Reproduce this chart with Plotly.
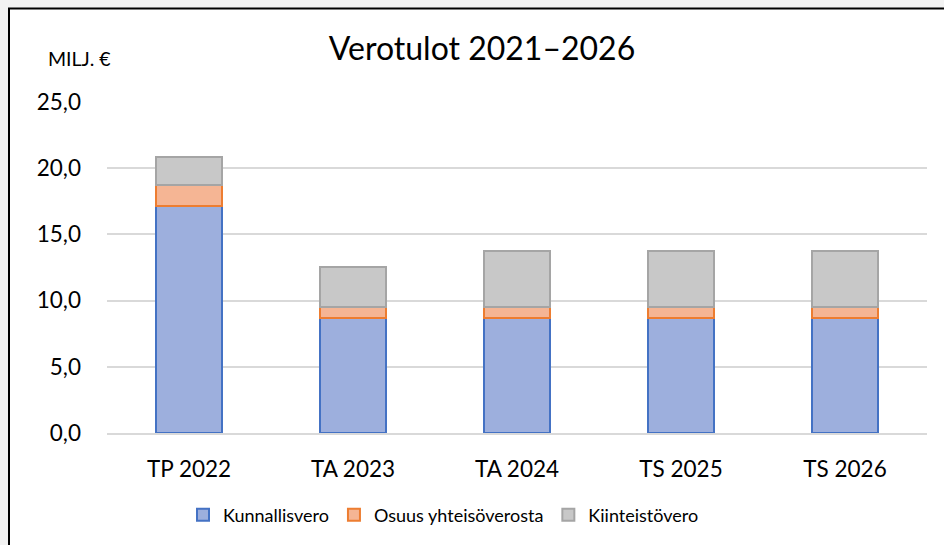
import plotly.graph_objects as go

categories = ["TP 2022", "TA 2023", "TA 2024", "TS 2025", "TS 2026"]
kunnallisvero = [17.14, 8.66, 8.66, 8.66, 8.66]
osuus_yhteisoverosta = [1.60, 0.88, 0.86, 0.86, 0.86]
kiinteistovero = [2.12, 3.02, 4.23, 4.23, 4.23]
y_ticks = [0, 5, 10, 15, 20, 25]

FONT = "Lato"

# plot area in pixels
L, R, T, B = 107, 927, 102, 433
W, H = 944, 545
pw, ph = R - L, B - T

def px_x(px):
    return (px - L) / pw

def px_y(py):
    return (B - py) / ph

fig = go.Figure()
series = [
    ("Kunnallisvero", kunnallisvero, "#9dafdd", "#4472c4"),
    ("Osuus yhteisöverosta", osuus_yhteisoverosta, "#f5b594", "#ed7d31"),
    ("Kiinteistövero", kiinteistovero, "#c8c8c8", "#a5a5a5"),
]
for name, vals, fill, line in series:
    fig.add_trace(go.Bar(
        x=categories, y=vals, name=name,
        marker=dict(color=fill, line=dict(color=line, width=2)),
        width=0.4,
    ))

fig.update_layout(
    barmode="stack",
    width=W, height=H,
    margin=dict(l=L, r=W - R, t=T, b=H - B),
    paper_bgcolor="#f2f2f2",
    plot_bgcolor="rgba(0,0,0,0)",
    font=dict(family=FONT, color="#000000"),
    separators=", ",
    title=dict(
        text="Verotulot 2021–2026",
        x=482 / W, xref="container", xanchor="center",
        y=1 - 49 / H, yref="container", yanchor="middle",
        font=dict(family=FONT, size=32, color="#000000"),
    ),
    showlegend=True,
    legend=dict(
        orientation="h",
        x=px_x(183), xanchor="left",
        y=px_y(515), yanchor="middle",
        font=dict(family=FONT, size=18, color="#000000"),
        bgcolor="rgba(0,0,0,0)",
        traceorder="normal",
        itemwidth=30,
    ),
    bargap=0.6,
    shapes=[
        dict(type="rect", xref="paper", yref="paper",
             x0=px_x(9), x1=px_x(960), y0=px_y(560), y1=px_y(8.5),
             fillcolor="white", line=dict(color="black", width=2),
             layer="below"),
    ],
    annotations=[
        dict(text="MILJ. €", xref="paper", yref="paper",
             x=px_x(46), y=px_y(58), xanchor="left", yanchor="middle",
             showarrow=False, font=dict(family=FONT, size=19.5, color="#000000")),
    ],
)

fig.update_yaxes(
    range=[0, 25], tickvals=y_ticks, tickformat=".1f",
    showgrid=True, gridcolor="#d9d9d9", gridwidth=2,
    zeroline=False, showline=False,
    tickfont=dict(family=FONT, size=22.5, color="#000000"),
    ticklabelstandoff=25,
    fixedrange=True,
)
fig.update_xaxes(
    showline=True, linecolor="#d9d9d9", linewidth=2,
    showgrid=False,
    tickfont=dict(family=FONT, size=22.5, color="#000000"),
    ticklabelstandoff=15,
    fixedrange=True,
)

fig.write_html("out.html")
